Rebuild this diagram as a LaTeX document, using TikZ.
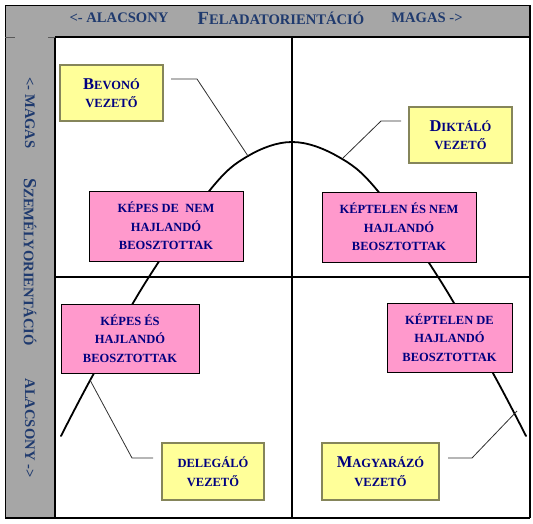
\documentclass[tikz,border=0pt]{standalone}
\usepackage{fontspec}
\setmainfont{Liberation Serif}
\definecolor{bandgray}{HTML}{A6A6A6}
\definecolor{yel}{HTML}{FFFF99}
\definecolor{yelbrd}{HTML}{85855A}
\definecolor{pink}{HTML}{FF99CC}
\definecolor{boxtext}{HTML}{000080}
\definecolor{headtext}{HTML}{1F3A6E}
\definecolor{callgray}{HTML}{303030}
\newcommand\initc[1]{{\fontsize{16.5}{18.5}\selectfont #1}}
\newcommand\hinit[1]{{\fontsize{18.5}{18}\selectfont #1}}
\begin{document}
\begin{tikzpicture}[x=1pt,y=-1pt,
  yellowbox/.style={draw=yelbrd, fill=yel, line width=1.2pt, inner sep=0pt, align=center,
    text=boxtext, font=\bfseries\fontsize{12.5}{18.5}\selectfont},
  pinkbox/.style={draw=black, fill=pink, line width=1pt, inner sep=0pt, align=center,
    text=boxtext, font=\bfseries\fontsize{12.5}{18.5}\selectfont},
  headlbl/.style={text=headtext, inner sep=0pt, font=\bfseries\fontsize{14.6}{16}\selectfont},
  gridline/.style={line width=1.2pt, black},
  bell/.style={line width=1.8pt, black, line cap=round},
  callout/.style={line width=0.8pt, callgray}
]
\useasboundingbox (0,0) rectangle (533,523);
% bands
\fill[bandgray] (5,5) rectangle (530,37);
\fill[bandgray] (5,37) rectangle (55,518);
\draw[line width=0.8pt] (5,5) -- (530,5);
\draw[line width=0.8pt] (5,5) -- (5,518);
\draw[gridline] (530,5) -- (530,518);
\draw[gridline] (5,518) -- (530,518);
\draw[gridline] (55,37) -- (530,37);
\draw[gridline] (55,37) -- (55,518);
\draw[line width=0.6pt, gray!70!black] (5,37) -- (15,37) (48,37) -- (55,37);
% grid
\draw[gridline] (292,37) -- (292,518);
\draw[gridline] (55,277) -- (530,277);
% header
\node[headlbl] (hlow) at (119,18) {<- ALACSONY};
\node[headlbl] (htitle) at (281,18) {\hinit{F}ELADATORIENTÁCIÓ};
\node[headlbl] (hhigh) at (427,18) {MAGAS ->};
% left band
\node[headlbl, rotate=-90] (vhigh) at (30,113) {<- MAGAS};
\node[headlbl, rotate=-90] (vtitle) at (30,262) {\hinit{S}ZEMÉLYORIENTÁCIÓ};
\node[headlbl, rotate=-90] (vlow) at (30,428) {ALACSONY ->};
% bell curve
\draw[bell] plot[smooth, tension=0.6] coordinates {(61,436) (93,375) (147,280) (210,190) (248,156) (292,142) (337,156) (377,190) (440,280) (494,375) (526,436)};
% boxes
\node[yellowbox, minimum width=103, minimum height=56] (bevono) at (111.5,93) {\initc{B}EVONÓ\\VEZETŐ};
\node[yellowbox, minimum width=103, minimum height=56] (diktalo) at (460.5,135) {\initc{D}IKTÁLÓ\\VEZETŐ};
\node[yellowbox, minimum width=102, minimum height=57] (delegalo) at (213,471.5) {DELEGÁLÓ\\VEZETŐ};
\node[yellowbox, minimum width=117, minimum height=57] (magyarazo) at (380.5,471.5) {\initc{M}AGYARÁZÓ\\VEZETŐ};
\node[pinkbox, minimum width=154, minimum height=70] (kepesnem) at (166,226) {KÉPES DE\ \ NEM\\HAJLANDÓ\\BEOSZTOTTAK};
\node[pinkbox, minimum width=154, minimum height=70] (keptelennem) at (399,227) {KÉPTELEN ÉS NEM\\HAJLANDÓ\\BEOSZTOTTAK};
\node[pinkbox, minimum width=138, minimum height=69] (kepeshajl) at (130,338.5) {KÉPES ÉS\\HAJLANDÓ\\BEOSZTOTTAK};
\node[pinkbox, minimum width=125, minimum height=69] (keptelenhajl) at (449.5,337.5) {KÉPTELEN DE\\HAJLANDÓ\\BEOSZTOTTAK};
% callouts
\coordinate (c1s) at (171,79);
\coordinate (c1e) at (248,156);
\draw[callout] (c1s) -- (197,79) -- (c1e);
\coordinate (c2s) at (401,121);
\coordinate (c2e) at (343,158);
\draw[callout] (c2s) -- (381,121) -- (c2e);
\coordinate (c3s) at (153,458);
\coordinate (c3e) at (90,380);
\draw[callout] (c3s) -- (132,458) -- (c3e);
\coordinate (c4s) at (448,458);
\coordinate (c4e) at (517,411);
\draw[callout] (c4s) -- (472,458) -- (c4e);
\end{tikzpicture}
\end{document}
